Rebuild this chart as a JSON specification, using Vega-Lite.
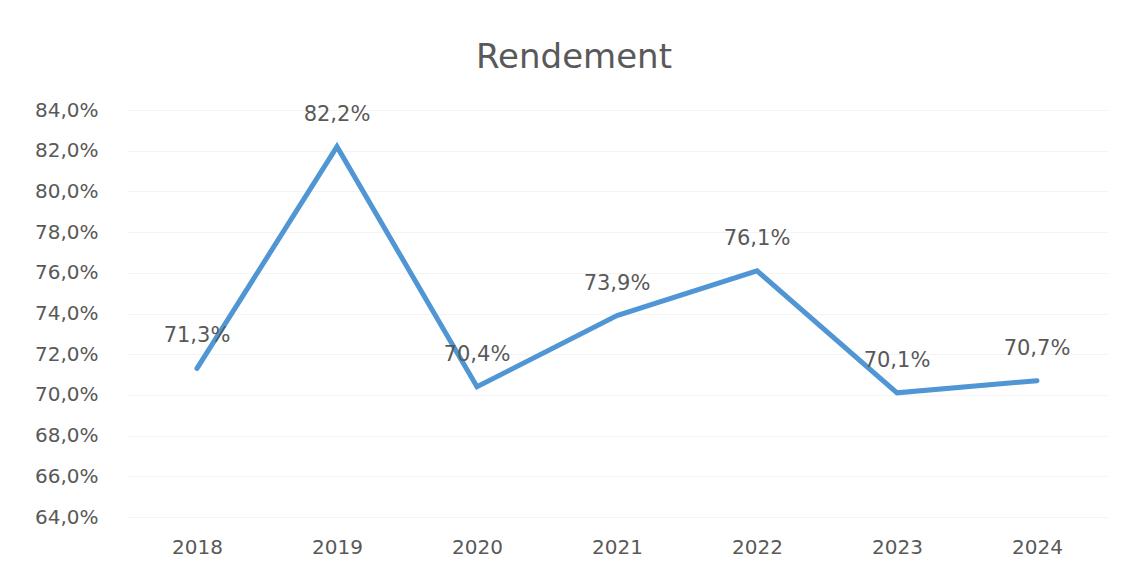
{
  "$schema": "https://vega.github.io/schema/vega-lite/v6.json",
  "width": 980,
  "height": 407,
  "autosize": {"type": "none"},
  "padding": {"left": 127, "top": 110, "right": 21, "bottom": 49},
  "background": "white",
  "config": {
    "locale": {"number": {"decimal": ",", "thousands": " ", "grouping": [3], "currency": ["", " €"]}},
    "view": {"stroke": null},
    "font": "DejaVu Sans"
  },
  "title": {
    "text": "Rendement",
    "fontSize": 34,
    "font": "DejaVu Sans",
    "fontWeight": "normal",
    "color": "#595959",
    "anchor": "middle",
    "dx": -43,
    "offset": 25
  },
  "data": {
    "values": [
      {"year": "2018", "value": 0.713},
      {"year": "2019", "value": 0.822},
      {"year": "2020", "value": 0.704},
      {"year": "2021", "value": 0.739},
      {"year": "2022", "value": 0.761},
      {"year": "2023", "value": 0.701},
      {"year": "2024", "value": 0.707}
    ]
  },
  "encoding": {
    "x": {
      "field": "year",
      "type": "ordinal",
      "scale": {"type": "point", "padding": 0.5},
      "axis": {
        "title": null,
        "labelAngle": 0,
        "labelFontSize": 20,
        "labelFont": "DejaVu Sans",
        "labelColor": "#595959",
        "labelPadding": 20,
        "ticks": false,
        "domain": false,
        "grid": false
      }
    },
    "y": {
      "field": "value",
      "type": "quantitative",
      "scale": {"domain": [0.64, 0.84], "nice": false, "zero": false},
      "axis": {
        "title": null,
        "format": ".1%",
        "values": [0.64, 0.66, 0.68, 0.70, 0.72, 0.74, 0.76, 0.78, 0.80, 0.82, 0.84],
        "labelFontSize": 20,
        "labelFont": "DejaVu Sans",
        "labelColor": "#595959",
        "labelPadding": 29,
        "ticks": false,
        "domain": false,
        "grid": true,
        "gridColor": "#f4f4f4",
        "gridWidth": 1
      }
    }
  },
  "layer": [
    {
      "mark": {"type": "line", "color": "#5096d4", "strokeWidth": 5, "strokeCap": "round", "strokeJoin": "miter"}
    },
    {
      "mark": {"type": "text", "dy": -32, "fontSize": 21, "color": "#595959", "font": "DejaVu Sans"},
      "encoding": {
        "text": {"field": "value", "type": "quantitative", "format": ".1%"}
      }
    }
  ]
}
